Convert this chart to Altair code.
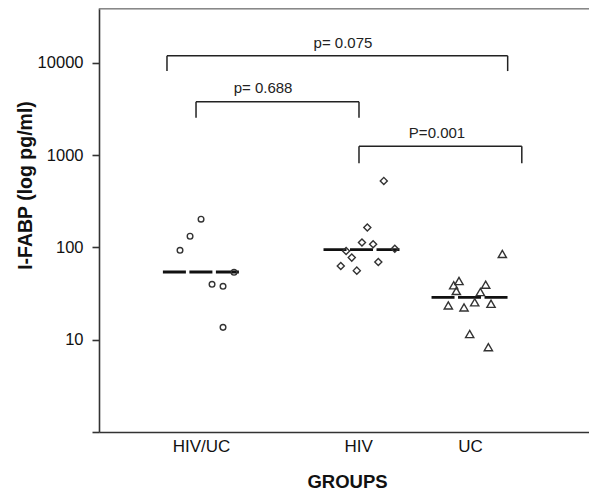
import altair as alt
import pandas as pd

# ---- data ----
cat_names = ["HIV/UC", "HIV", "UC"]
cat_pos = [1.0, 2.0, 2.713]
shapes = ["circle", "diamond", "triangle-up"]

hivuc_vals = [93, 132, 202, 53.7, 39.8, 37.9, 13.6]
hivuc_jit = [-0.134, -0.070, 0.0, 0.210, 0.070, 0.140, 0.140]

hiv_vals = [525, 164, 113, 108, 96.6, 91.4, 77.5, 62.8, 69.5, 56.0]
hiv_jit = [0.164, 0.059, 0.025, 0.096, 0.234, -0.076, -0.040, -0.110, 0.129, -0.008]

uc_vals = [84.8, 43.2, 38.8, 39.5, 33.7, 32.8, 25.4, 24.5, 23.5, 22.4, 11.5, 8.3]
uc_jit = [0.206, -0.070, -0.104, 0.100, -0.087, 0.066, 0.030, 0.134, -0.138, -0.038, -0.002, 0.117]

medians = [54.1, 94.6, 28.8]
med_shift = [0.002, 0.025, 0.0]
med_half = 0.245

# brackets: left, right, top, leg end, label, label x, label y
br_left = [0.783, 0.968, 2.006]
br_right = [2.953, 2.006, 3.043]
br_top = [11900, 3776, 1250]
br_leg = [8130, 2530, 817]
br_text = ["p= 0.075", "p= 0.688", "P=0.001"]
br_tx = [1.904, 1.395, 2.503]
br_ty = [16300, 5310, 1725]

y_ticks = [1, 10, 100, 1000, 10000]

# ---- tables ----
rows = []
for g, vals, jit in [(0, hivuc_vals, hivuc_jit), (1, hiv_vals, hiv_jit), (2, uc_vals, uc_jit)]:
    for v, j in zip(vals, jit):
        rows.append({"group": cat_names[g], "x": cat_pos[g] + j, "y": v})
pts = pd.DataFrame(rows)

med = pd.DataFrame({
    "x": [p + s - med_half for p, s in zip(cat_pos, med_shift)],
    "x2": [p + s + med_half for p, s in zip(cat_pos, med_shift)],
    "y": medians,
})

br_h = pd.DataFrame({"x": br_left, "x2": br_right, "y": br_top})
br_v = pd.DataFrame({
    "x": br_left + br_right,
    "y": br_top + br_top,
    "y2": br_leg + br_leg,
})
br_lab = pd.DataFrame({"x": br_tx, "y": br_ty, "t": br_text})

W, H = 490, 424
FONT = "Liberation Sans"

xscale = alt.Scale(domain=[0.35, 3.471], nice=False, zero=False)
yscale = alt.Scale(type="log", domain=[1, 39200], nice=False)

label_expr = " : ".join(
    [f"abs(datum.value - {p}) < 0.01 ? '{n}'" for p, n in zip(cat_pos, cat_names)]
) + " : ''"

xaxis = alt.Axis(
    values=cat_pos, labelExpr=label_expr, ticks=False, grid=False,
    title="GROUPS", labelFontSize=17, labelPadding=6, labelColor="#111",
    titleFontSize=18.5, titleFontWeight="bold", titleColor="#111",
    titleX=248, titleY=49, titleBaseline="middle", titleAlign="center",
    labelFont=FONT, titleFont=FONT,
    domainColor="#333", domainWidth=1.6,
)
yaxis = alt.Axis(
    values=y_ticks, format="d",
    labelExpr="datum.value < 5 ? '' : datum.label",
    grid=False, title="I-FABP (log pg/ml)",
    labelFontSize=16.5, labelPadding=9, labelColor="#111",
    tickSize=7, tickColor="#333", tickWidth=1.6,
    domainColor="#333", domainWidth=1.6,
    titleFontSize=19.5, titleFontWeight="bold", titleColor="#111",
    titleX=-74, titleY=177, titleBaseline="middle", titleAlign="center", titleAngle=-90,
    labelFont=FONT, titleFont=FONT,
)


def X(field):
    return alt.X(field, type="quantitative", scale=xscale, axis=xaxis)


def Y(field):
    return alt.Y(field, type="quantitative", scale=yscale, axis=yaxis)


points = alt.Chart(pts).mark_point(filled=False, strokeWidth=1.4, color="#333", opacity=1).encode(
    x=X("x"), y=Y("y"),
    shape=alt.Shape("group:N", scale=alt.Scale(domain=cat_names, range=shapes), legend=None),
    size=alt.Size("group:N", scale=alt.Scale(domain=cat_names, range=[32, 68, 42]), legend=None),
)

med_lines = alt.Chart(med).mark_rule(color="#111", strokeWidth=2.8, strokeDash=[23, 3.5]).encode(
    x=X("x"), x2="x2", y=Y("y")
)

br_h_l = alt.Chart(br_h).mark_rule(color="#222", strokeWidth=1.5).encode(
    x=X("x"), x2="x2", y=Y("y")
)
br_v_l = alt.Chart(br_v).mark_rule(color="#222", strokeWidth=1.5).encode(
    x=X("x"), y=Y("y"), y2="y2"
)
br_t = alt.Chart(br_lab).mark_text(fontSize=15, font=FONT, color="#222", baseline="middle", align="center").encode(
    x=X("x"), y=Y("y"), text="t:N"
)

top_line = alt.Chart(br_lab).mark_rule(color="#888", strokeWidth=2.5).encode(
    x=alt.value(0), x2=alt.value(W), y=alt.value(0)
)

chart = alt.layer(top_line, med_lines, points, br_h_l, br_v_l, br_t).properties(
    width=W, height=H,
    autosize=alt.AutoSizeParams(type="none"),
    padding={"left": 91, "top": 0, "right": 0, "bottom": 60},
    background="white",
).configure_view(stroke=None)

chart.save("out.html", embed_options={"renderer": "svg", "actions": False})
